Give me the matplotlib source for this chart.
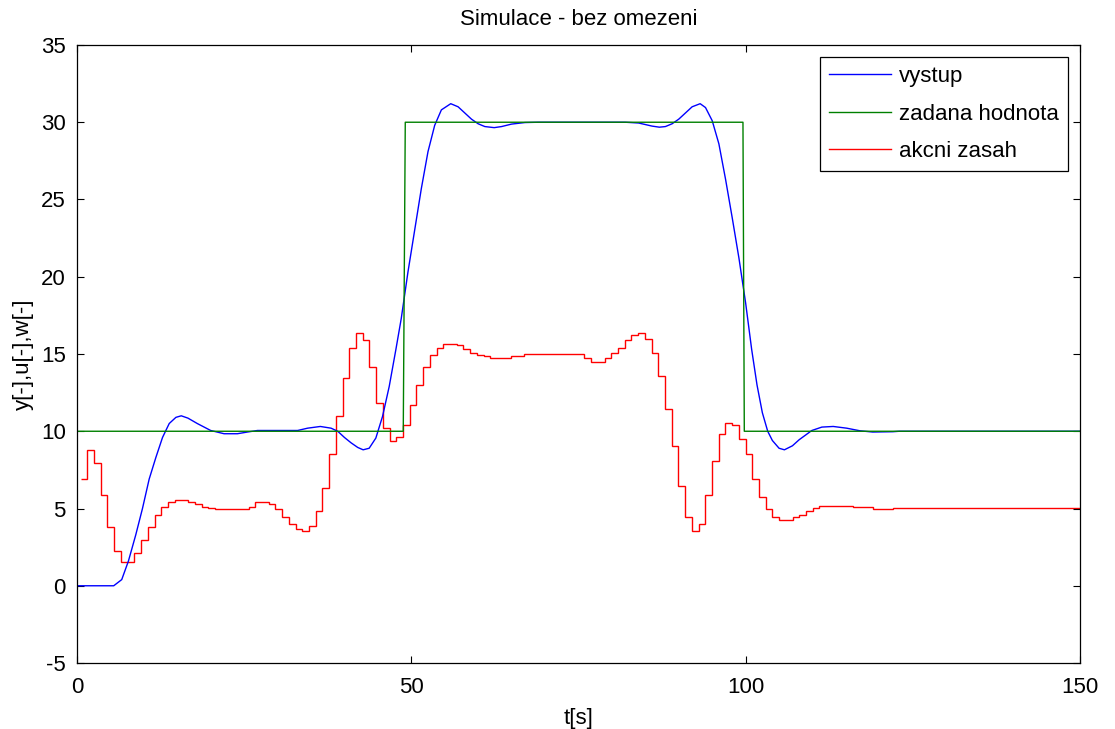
import numpy as np
import matplotlib
matplotlib.use('Agg')
import matplotlib.pyplot as plt

plt.rcParams['font.family'] = ['Liberation Sans', 'DejaVu Sans']
plt.rcParams['axes.unicode_minus'] = False

# vystup (y) - prubeh vystupu
blue_pts = [(0, 0), (5.5, 0), (6.7, 0.4), (7.7, 1.6), (8.8, 3.3), (9.8, 5.0), (10.8, 6.9),
            (11.8, 8.3), (12.8, 9.6), (13.8, 10.5), (14.8, 10.9), (15.6, 11.0), (16.6, 10.85),
            (18, 10.5), (20, 10.05), (22, 9.84), (24, 9.84), (25.5, 9.95), (27, 10.05),
            (33, 10.05), (34.5, 10.2), (36.4, 10.31), (38, 10.2), (39, 10.0), (40, 9.6),
            (41, 9.25), (42, 8.95), (42.8, 8.8), (43.7, 8.9), (44.7, 9.56), (45.7, 10.96),
            (46.7, 12.9), (47.7, 15.3), (48.5, 17.3), (49.5, 20.3), (50.5, 23.0), (51.5, 25.7),
            (52.5, 28.1), (53.5, 29.8), (54.5, 30.8), (55.9, 31.2), (57, 31.0), (58, 30.6),
            (59, 30.2), (60, 29.9), (61, 29.72), (62.4, 29.65), (63.5, 29.72), (65, 29.88),
            (67, 29.98), (69, 30.0), (82, 30.0), (84, 29.95), (85, 29.85), (86, 29.75),
            (87.1, 29.68), (88, 29.72), (89, 29.9), (90, 30.2), (91, 30.6), (92, 31.0),
            (93.2, 31.2), (94, 30.95), (95, 30.1), (96, 28.6), (97, 26.3), (98, 23.8),
            (99, 21.2), (100, 18.3), (100.9, 15.3), (101.7, 13.0), (102.5, 11.2), (103.3, 10.0),
            (104, 9.4), (105, 8.9), (105.8, 8.8), (107, 9.06), (108, 9.45), (109.9, 10.05),
            (111.4, 10.27), (113.1, 10.31), (115.1, 10.2), (117.1, 10.03), (119, 9.95),
            (122, 9.97), (123, 10.0), (150, 10.0)]

# zadana hodnota (w)
w_t = [0, 48.8, 49.1, 99.6, 99.8, 150]
w_y = [10, 10, 30, 30, 10, 10]

# akcni zasah (u) - jedna hodnota na periodu vzorkovani
u_vals = [6.9, 8.8, 7.96, 5.87, 3.78, 2.27, 1.55, 1.55, 2.14, 2.96,
          3.78, 4.57, 5.07, 5.39, 5.54, 5.54, 5.45, 5.3, 5.12, 5.03,
          4.96, 4.96, 4.96, 4.96, 4.96, 5.13, 5.41, 5.41, 5.31, 4.96,
          4.45, 3.99, 3.67, 3.53, 3.88, 4.81, 6.32, 8.54, 10.99, 13.44,
          15.40, 16.35, 15.88, 14.15, 11.8, 10.2, 9.39, 9.6, 10.38, 11.68,
          12.97, 14.13, 14.95, 15.38, 15.64, 15.64, 15.58, 15.32, 15.06, 14.95,
          14.84, 14.74, 14.74, 14.74, 14.87, 14.87, 15.0, 15.0, 15.0, 15.0,
          15.0, 15.0, 15.0, 15.0, 15.0, 14.71, 14.48, 14.48, 14.71, 15.07,
          15.42, 15.88, 16.25, 16.35, 15.99, 15.06, 13.55, 11.46, 9.02, 6.47,
          4.44, 3.54, 3.99, 5.89, 8.07, 9.82, 10.51, 10.4, 9.49, 8.5,
          6.9, 5.76, 4.96, 4.47, 4.25, 4.25, 4.47, 4.57, 4.81, 5.03,
          5.16, 5.16, 5.16, 5.16, 5.16, 5.07, 5.07, 5.07, 4.96, 4.96,
          4.96] + [5.05] * 28

bt = [p[0] for p in blue_pts]
by = [p[1] for p in blue_pts]

# casove okraje schodu
u_edges = list(0.55 + 1.0045 * np.arange(len(u_vals))) + [150]

fig = plt.figure(figsize=(11.15, 7.29), dpi=100)
ax = fig.add_axes([0.069, 0.0905, 0.8996, 0.8478])

ax.plot(bt, by, color='#0000ff', linewidth=1.0, label='vystup')
ax.plot(w_t, w_y, color='#008000', linewidth=1.0, label='zadana hodnota')
ax.stairs(u_vals, u_edges, color='#ff0000', linewidth=1.0, baseline=None, label='akcni zasah')

ax.set_xlim(0, 150)
ax.set_ylim(-5, 35)
ax.set_xticks([0, 50, 100, 150])
ax.set_yticks(np.arange(-5, 36, 5))
ax.tick_params(direction='in', length=5, top=True, right=True, labelsize=16, pad=8)
ax.tick_params(axis='x', pad=10)
for s in ax.spines.values():
    s.set_linewidth(0.9)

ax.set_title('Simulace - bez omezeni', fontsize=16, pad=14.5)
ax.set_xlabel('t[s]', fontsize=16, labelpad=7)
ax.set_ylabel('y[-],u[-],w[-]', fontsize=16, labelpad=5)

leg = ax.legend(loc='upper right', fontsize=16, frameon=True, fancybox=False,
                edgecolor='black', framealpha=1, borderaxespad=0.55,
                handlelength=2.8, handletextpad=0.35, borderpad=0.4, labelspacing=0.74)
leg.get_frame().set_linewidth(0.9)

fig.savefig('out.png', dpi=100)
